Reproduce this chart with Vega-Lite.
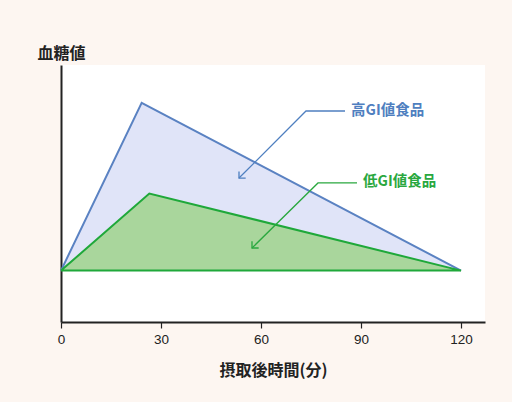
{
  "$schema": "https://vega.github.io/schema/vega-lite/v6.json",
  "width": 424,
  "height": 257,
  "autosize": {"type": "none"},
  "padding": {"left": 61, "top": 65, "right": 27, "bottom": 80},
  "background": "#fdf6f1",
  "config": {
    "view": {"stroke": null, "fill": "#ffffff"},
    "font": "Noto Sans CJK JP"
  },
  "datasets": {
    "curves": [
      {"s": "high", "t": 0, "v": 20, "o": 1},
      {"s": "high", "t": 24.2, "v": 85.3, "o": 2},
      {"s": "high", "t": 120, "v": 20, "o": 3},
      {"s": "low", "t": 0, "v": 20, "o": 1},
      {"s": "low", "t": 26.5, "v": 50, "o": 2},
      {"s": "low", "t": 120, "v": 20, "o": 3},
      {"s": "low", "t": 0, "v": 20, "o": 4}
    ],
    "arrows": [
      {"s": "high", "g": "hl", "t": 85.2, "v": 82.1, "o": 1},
      {"s": "high", "g": "hl", "t": 73.5, "v": 82.1, "o": 2},
      {"s": "high", "g": "hl", "t": 53.4, "v": 56.0, "o": 3},
      {"s": "high", "g": "hh", "t": 55.4, "v": 56.0, "o": 1},
      {"s": "high", "g": "hh", "t": 53.4, "v": 56.0, "o": 2},
      {"s": "high", "g": "hh", "t": 53.4, "v": 58.6, "o": 3},
      {"s": "low", "g": "ll", "t": 88.8, "v": 54.1, "o": 1},
      {"s": "low", "g": "ll", "t": 77.1, "v": 54.1, "o": 2},
      {"s": "low", "g": "ll", "t": 57.3, "v": 28.8, "o": 3},
      {"s": "low", "g": "lh", "t": 59.3, "v": 28.8, "o": 1},
      {"s": "low", "g": "lh", "t": 57.3, "v": 28.8, "o": 2},
      {"s": "low", "g": "lh", "t": 57.3, "v": 31.4, "o": 3}
    ],
    "labels": [
      {"s": "high", "label": "高GI値食品", "t": 87.0, "v": 82.1},
      {"s": "low", "label": "低GI値食品", "t": 90.6, "v": 54.3}
    ]
  },
  "encoding": {
    "x": {
      "field": "t",
      "type": "quantitative",
      "scale": {"domain": [0, 127.2], "nice": false},
      "axis": {
        "values": [0, 30, 60, 90, 120],
        "grid": false,
        "domainColor": "#222222",
        "domainWidth": 2,
        "tickColor": "#222222",
        "tickWidth": 1.2,
        "tickSize": 6,
        "labelFont": "Liberation Sans",
        "labelFontSize": 13.5,
        "labelColor": "#222222",
        "labelPadding": 4,
        "labelFlush": false,
        "title": "摂取後時間(分)",
        "titleFontSize": 16,
        "titleFontWeight": "bold",
        "titleColor": "#222222",
        "titleBaseline": "alphabetic",
        "titleY": 53
      }
    },
    "y": {
      "field": "v",
      "type": "quantitative",
      "scale": {"domain": [0, 100], "nice": false},
      "axis": {
        "labels": false,
        "ticks": false,
        "grid": false,
        "domainColor": "#222222",
        "domainWidth": 2,
        "title": "血糖値",
        "titleAngle": 0,
        "titleAlign": "center",
        "titleBaseline": "alphabetic",
        "titleX": 0,
        "titleY": -7,
        "titleFontSize": 16,
        "titleFontWeight": "bold",
        "titleColor": "#222222"
      }
    }
  },
  "layer": [
    {
      "data": {"name": "curves"},
      "transform": [{"filter": "datum.s == 'high'"}],
      "mark": {"type": "area", "color": "#e0e4f8", "opacity": 1},
      "encoding": {"y2": {"datum": 20}}
    },
    {
      "data": {"name": "curves"},
      "transform": [{"filter": "datum.s == 'high'"}],
      "mark": {"type": "line", "color": "#5a82c2", "strokeWidth": 2},
      "encoding": {"order": {"field": "o"}}
    },
    {
      "data": {"name": "curves"},
      "transform": [{"filter": "datum.s == 'low' && datum.o < 4"}],
      "mark": {"type": "area", "color": "#a9d69c", "opacity": 1},
      "encoding": {"y2": {"datum": 20}}
    },
    {
      "data": {"name": "curves"},
      "transform": [{"filter": "datum.s == 'low'"}],
      "mark": {"type": "line", "color": "#1fa83a", "strokeWidth": 2},
      "encoding": {"order": {"field": "o"}}
    },
    {
      "data": {"name": "arrows"},
      "mark": {"type": "line", "strokeWidth": 1.3},
      "encoding": {
        "detail": {"field": "g"},
        "order": {"field": "o"},
        "color": {
          "field": "s",
          "type": "nominal",
          "scale": {"domain": ["high", "low"], "range": ["#4f7fc0", "#2aa83f"]},
          "legend": null
        }
      }
    },
    {
      "data": {"name": "labels"},
      "mark": {"type": "text", "align": "left", "baseline": "middle", "fontSize": 14.5, "fontWeight": "bold"},
      "encoding": {
        "text": {"field": "label"},
        "color": {
          "field": "s",
          "type": "nominal",
          "scale": {"domain": ["high", "low"], "range": ["#3f72b8", "#1fa23a"]},
          "legend": null
        }
      }
    }
  ]
}
